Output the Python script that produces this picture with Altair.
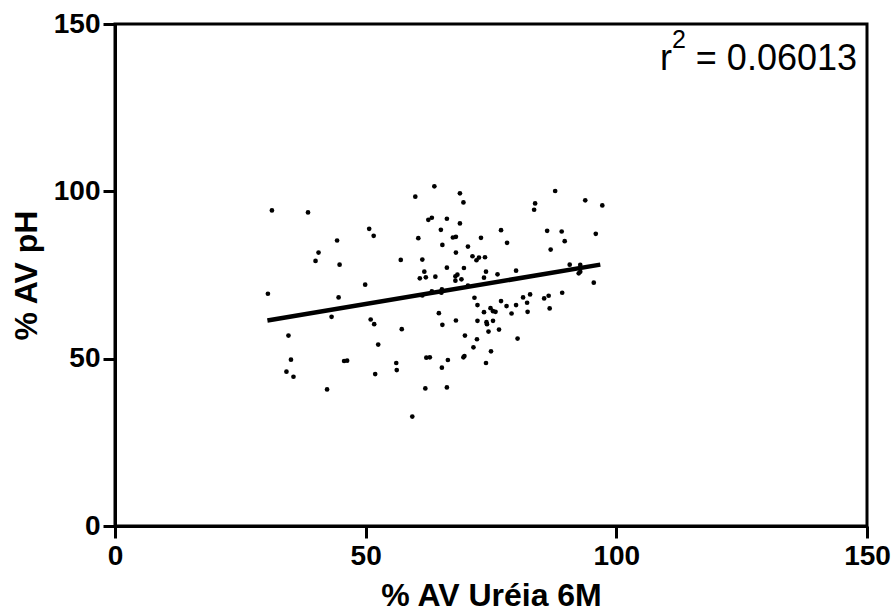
import altair as alt
import pandas as pd

# --- data ---
urea_6m = [31.3, 38.5, 59.9, 62.5, 50.7, 51.6, 44.3, 60.5, 40.6, 40.0,
           44.8, 57.0, 61.3, 61.7, 60.8, 62.0, 49.9, 30.5, 44.6, 43.2,
           51.0, 51.7, 57.2, 34.6, 52.5, 35.1, 45.7, 46.3, 56.1, 34.2,
           35.6, 56.2, 51.9, 42.3, 61.9, 59.3, 61.3, 63.7, 68.8, 69.5,
           87.8, 93.8, 97.2, 83.8, 83.6, 63.2, 66.2, 68.8, 65.0, 77.0,
           86.2, 89.1, 95.9, 67.4, 68.0, 73.0, 89.7, 65.3, 78.2, 70.4,
           86.9, 68.0, 71.3, 72.1, 72.6, 73.8, 66.2, 69.6, 80.0, 90.7,
           92.8, 92.5, 92.8, 74.0, 76.3, 68.3, 67.9, 63.9, 69.1, 73.6,
           67.9, 95.5, 65.2, 65.1, 63.2, 70.4, 71.7, 81.4, 82.8, 86.5,
           85.6, 89.2, 72.3, 77.0, 78.1, 80.0, 82.2, 86.7, 82.3, 74.9,
           75.4, 75.9, 73.6, 79.1, 64.6, 65.3, 68.0, 72.3, 74.1, 74.2,
           75.4, 74.5, 76.6, 69.8, 72.2, 80.3, 71.5, 75.0, 62.1, 62.8,
           69.5, 69.7, 66.4, 74.0, 65.2, 66.2]
ph = [94.3, 93.7, 98.4, 91.5, 88.8, 86.7, 85.3, 86.0, 81.7, 79.2,
      78.1, 79.5, 79.6, 76.0, 74.0, 74.3, 72.1, 69.4, 68.3, 62.5,
      61.7, 60.3, 58.8, 56.9, 54.2, 49.7, 49.3, 49.4, 48.7, 46.1,
      44.6, 46.6, 45.4, 40.8, 41.1, 32.7, 68.9, 101.5, 99.4, 96.7,
      100.1, 97.3, 95.8, 96.4, 94.5, 92.1, 91.8, 90.4, 88.5, 88.4,
      88.2, 88.0, 87.3, 86.2, 86.4, 86.1, 85.1, 84.0, 84.6, 83.5,
      82.6, 81.7, 80.6, 79.4, 80.2, 80.3, 77.2, 77.1, 76.3, 78.1,
      78.0, 75.5, 76.0, 76.0, 75.2, 75.1, 74.6, 74.5, 73.7, 74.2,
      73.3, 72.7, 70.7, 69.7, 70.1, 71.8, 68.2, 68.3, 69.2, 68.8,
      68.0, 69.7, 66.0, 67.2, 65.7, 66.0, 66.7, 65.0, 64.0, 65.1,
      64.2, 64.0, 63.9, 63.5, 63.6, 60.1, 61.4, 61.3, 60.9, 60.3,
      61.3, 58.1, 58.7, 56.9, 55.8, 56.0, 53.4, 52.2, 50.3, 50.4,
      50.4, 50.8, 49.6, 48.7, 47.3, 41.4]

fit_x = [30.4, 96.8]
fit_y = [61.4, 78.1]

axis_ticks = [0, 50, 100, 150]
x_title = "% AV Uréia 6M"
y_title = "% AV pH"
r2_base = "r"
r2_sup = "2"
r2_value = " = 0.06013"

pts = pd.DataFrame({"x": urea_6m, "y": ph})
fit = pd.DataFrame({"x": fit_x, "y": fit_y})

W, H = 752, 502

xscale = alt.Scale(domain=[0, 150], nice=False, zero=False)
yscale = alt.Scale(domain=[0, 150], nice=False, zero=False)

xaxis = alt.Axis(values=axis_ticks, title=x_title, titleY=79,
                 titleBaseline="alphabetic", labelPadding=4, labelFlush=False)
yaxis = alt.Axis(values=axis_ticks, title=y_title, titleX=-89, titleY=H / 2,
                 titleAngle=-90, titleBaseline="middle", labelPadding=3,
                 labelFlush=False)

points = alt.Chart(pts).mark_circle(size=22, color="black", opacity=1).encode(
    x=alt.X("x:Q", scale=xscale, axis=xaxis),
    y=alt.Y("y:Q", scale=yscale, axis=yaxis),
)

line = alt.Chart(fit).mark_line(color="black", strokeWidth=4.5).encode(
    x=alt.X("x:Q", scale=xscale),
    y=alt.Y("y:Q", scale=yscale),
)

t_val = alt.Chart(pd.DataFrame({"t": [r2_value]})).mark_text(
    align="right", baseline="alphabetic", fontSize=36, font="Liberation Sans",
    color="black").encode(text="t:N", x=alt.value(742), y=alt.value(45.5))
t_sup = alt.Chart(pd.DataFrame({"t": [r2_sup]})).mark_text(
    align="right", baseline="alphabetic", fontSize=25, font="Liberation Sans",
    color="black").encode(text="t:N", x=alt.value(571), y=alt.value(23.5))
t_r = alt.Chart(pd.DataFrame({"t": [r2_base]})).mark_text(
    align="right", baseline="alphabetic", fontSize=36, font="Liberation Sans",
    color="black").encode(text="t:N", x=alt.value(557), y=alt.value(45.5))

chart = alt.layer(points, line, t_val, t_sup, t_r).properties(
    width=W, height=H,
    padding={"left": 115, "top": 24, "right": 24, "bottom": 86},
    autosize=alt.AutoSizeParams(type="none"),
    background="white",
).configure_view(
    stroke="black", strokeWidth=3
).configure_axis(
    grid=False,
    domainColor="black", domainWidth=3,
    tickColor="black", tickWidth=3, tickSize=12,
    labelFont="Liberation Sans", labelFontWeight="bold", labelFontSize=28,
    labelColor="black",
    titleFont="Liberation Sans", titleFontWeight="bold", titleFontSize=32,
    titleColor="black",
)

chart.save("out.html", embed_options={"renderer": "svg", "actions": False})
